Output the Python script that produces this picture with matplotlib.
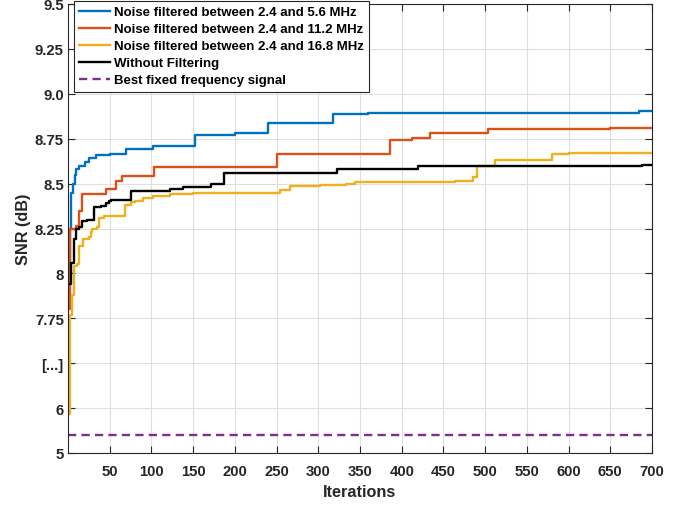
import numpy as np
import matplotlib
matplotlib.use("Agg")
import matplotlib.pyplot as plt

plt.rcParams['font.family'] = ['Liberation Sans', 'DejaVu Sans']
plt.rcParams['font.weight'] = 'bold'

# (iteration, SNR) break points of the running-best curves
it_blue = [1, 2, 3, 4, 6, 8, 10, 13, 20, 25, 33, 50, 70, 102, 152, 200, 240, 318, 360, 684, 700]
snr_blue = [8.04, 8.25, 8.35, 8.45, 8.50, 8.55, 8.58, 8.60, 8.62, 8.64, 8.66, 8.667, 8.69, 8.71,
            8.77, 8.78, 8.84, 8.89, 8.895, 8.905, 8.905]

it_orange = [1, 2, 9, 13, 17, 45, 57, 65, 103, 251, 386, 412, 434, 504, 650, 700]
snr_orange = [7.80, 8.25, 8.265, 8.35, 8.44, 8.47, 8.515, 8.545, 8.595, 8.665, 8.74, 8.755,
              8.78, 8.805, 8.81, 8.81]

it_yellow = [1, 2, 5, 7, 11, 13, 18, 25, 27, 29, 35, 37, 43, 68, 76, 80, 90, 102, 122, 150,
             254, 266, 302, 333, 344, 464, 485, 490, 512, 580, 601, 700]
snr_yellow = [5.87, 7.77, 7.88, 8.04, 8.05, 8.155, 8.19, 8.20, 8.23, 8.25, 8.26, 8.31, 8.32,
              8.38, 8.40, 8.405, 8.42, 8.43, 8.44, 8.45, 8.465, 8.485, 8.49, 8.50, 8.51,
              8.515, 8.535, 8.60, 8.63, 8.665, 8.67, 8.67]

it_black = [1, 3, 4, 7, 9, 13, 17, 23, 31, 39, 45, 49, 51, 75, 122, 138, 172, 187, 322, 420,
            688, 700]
snr_black = [7.94, 7.96, 8.06, 8.19, 8.25, 8.26, 8.29, 8.30, 8.37, 8.375, 8.39, 8.405, 8.41,
             8.457, 8.47, 8.48, 8.50, 8.56, 8.58, 8.60, 8.605, 8.605]

best_fixed = 5.4

labels = ["Noise filtered between 2.4 and 5.6 MHz",
          "Noise filtered between 2.4 and 11.2 MHz",
          "Noise filtered between 2.4 and 16.8 MHz",
          "Without Filtering",
          "Best fixed frequency signal"]

ytick_vals = [5, 6, 6.875, 7.75, 8, 8.25, 8.5, 8.75, 9.0, 9.25, 9.5]
ytick_labels = ["5", "6", "[...]", "7.75", "8", "8.25", "8.5", "8.75", "9.0", "9.25", "9.5"]
xtick_vals = list(range(50, 701, 50))

# broken y axis: 5-6 and 6-7.75 squeezed, 7.75-9.5 linear
v_pts = [-100, 5, 6, 7.75, 9.5, 100]
p_pts = [-105, 0, 1, 3, 10, 372]


def fwd(v):
    return np.interp(v, v_pts, p_pts)


def inv(p):
    return np.interp(p, p_pts, v_pts)


fig = plt.figure(figsize=(6.88, 5.06), dpi=100)
ax = fig.add_axes([68 / 688, 52 / 506, 584 / 688, 449 / 506])
ax.set_yscale('function', functions=(fwd, inv))

lw = 1.7
ax.plot(it_blue, snr_blue, color='#0072BD', lw=lw, drawstyle='steps-post', label=labels[0])
ax.plot(it_orange, snr_orange, color='#D95319', lw=lw, drawstyle='steps-post', label=labels[1])
ax.plot(it_yellow, snr_yellow, color='#EDB120', lw=lw, drawstyle='steps-post', label=labels[2])
ax.plot(it_black, snr_black, color='black', lw=lw, drawstyle='steps-post', label=labels[3])
ax.axhline(best_fixed, color='#7E2F8E', lw=lw, ls=(0, (3.5, 2.2)), label=labels[4])

ax.set_xlim(0, 700)
ax.set_ylim(5, 9.5)
ax.set_xticks(xtick_vals)
ax.set_yticks(ytick_vals)
ax.set_yticklabels(ytick_labels)
ax.minorticks_off()

ax.grid(True, color='#dfdfdf', lw=0.8)
ax.set_axisbelow(True)
ax.tick_params(direction='in', length=5, width=0.8, colors='#262626', labelsize=10.7,
               top=True, right=True)
ax.tick_params(axis='x', pad=8)
ax.tick_params(axis='y', pad=3)
for s in ax.spines.values():
    s.set_color('#262626')
    s.set_linewidth(0.8)

ax.set_xlabel("Iterations", fontsize=11.7, fontweight='bold', color='#262626', labelpad=4.5)
ax.set_ylabel("SNR (dB)", fontsize=11.7, fontweight='bold', color='#262626', labelpad=2.5)

leg = ax.legend(loc='upper left', bbox_to_anchor=(0.01, 1.007), borderaxespad=0,
                fontsize=9.5, frameon=True, fancybox=False, handlelength=2.35,
                handletextpad=0.3, labelspacing=0.36, borderpad=0.4)
leg.get_frame().set_edgecolor('#262626')
leg.get_frame().set_linewidth(0.8)
leg.get_frame().set_alpha(1)

fig.savefig("out.png", dpi=100)
